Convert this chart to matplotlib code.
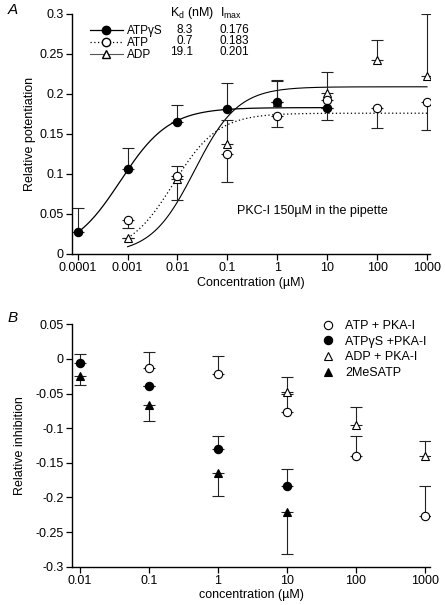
import numpy as np
import matplotlib
matplotlib.use("Agg")
import matplotlib.pyplot as plt
from matplotlib.lines import Line2D

plt.rcParams['font.family'] = ['Liberation Sans', 'DejaVu Sans']
plt.rcParams['mathtext.fontset'] = 'custom'
plt.rcParams['mathtext.rm'] = 'Liberation Sans'
plt.rcParams['mathtext.it'] = 'Liberation Sans:italic'

# ---------------- Panel A data ----------------
a_ticks = [0.0001, 0.001, 0.01, 0.1, 1, 10, 100, 1000]
a_ticklabels = ['0.0001', '0.001', '0.01', '0.1', '1', '10', '100', '1000']

atpgs_x = [0.0001, 0.001, 0.01, 0.1, 1, 10]
atpgs_y = [0.0275, 0.106, 0.165, 0.181, 0.190, 0.183]
atpgs_top = [0.058, 0.132, 0.186, 0.214, 0.218, 0.183]

atp_x = [0.001, 0.01, 0.1, 1, 10, 100, 1000]
atp_y = [0.043, 0.098, 0.125, 0.173, 0.192, 0.183, 0.190]
atp_bottom = [0.033, 0.068, 0.0896, 0.159, 0.168, 0.158, 0.155]

adp_x = [0.001, 0.01, 0.1, 1, 10, 100, 1000]
adp_y = [0.020, 0.094, 0.138, 0.190, 0.201, 0.242, 0.2225]
adp_top = [0.020, 0.110, 0.168, 0.216, 0.227, 0.267, 0.300]

# Hill fit parameters (Imax, K in uM, n) and x-range of each fitted curve
fit_names = ['ATPγS', 'ATP', 'ADP']
fit_imax = [0.183, 0.176, 0.209]
fit_k = [0.00072, 0.0083, 0.022]
fit_n = [0.89, 0.97, 1.0]
fit_range = [(0.0001, 10), (0.001, 1000), (0.001, 1000)]

table_kd = ['8.3', '0.7', '19.1']
table_imax = ['0.176', '0.183', '0.201']

# ---------------- Panel B data ----------------
b_ticks = [0.01, 0.1, 1, 10, 100, 1000]
b_ticklabels = ['0.01', '0.1', '1', '10', '100', '1000']

b_atp_x = [0.1, 1, 10, 100, 1000]
b_atp_y = [-0.0136, -0.0217, -0.077, -0.1407, -0.2265]
b_atp_top = [0.0096, 0.0043, -0.050, -0.111, -0.184]

b_atpgs_x = [0.01, 0.1, 1, 10]
b_atpgs_y = [-0.0063, -0.0396, -0.1296, -0.184]
b_atpgs_top = [0.0066, -0.0396, -0.112, -0.159]

b_adp_x = [10, 100, 1000]
b_adp_y = [-0.048, -0.0954, -0.1397]
b_adp_top = [-0.0256, -0.069, -0.118]

b_mes_x = [0.01, 0.1, 1, 10]
b_mes_y = [-0.024, -0.066, -0.165, -0.2216]
b_mes_bottom = [-0.037, -0.0896, -0.198, -0.282]

b_labels = ['ATP + PKA-I', 'ATPγS +PKA-I', 'ADP + PKA-I', '2MeSATP']

# ---------------- figure ----------------
fig = plt.figure(figsize=(4.45, 6.05), dpi=100)
axA = fig.add_axes([72/445, (605-254)/605, 358/445, 240/605])
axB = fig.add_axes([72/445, (605-566.7)/605, 358/445, 242.4/605])

ms = 6
ebkw = dict(fmt='none', ecolor='#222222', elinewidth=0.8, capsize=4.0, capthick=0.8, zorder=2)


def up(y, top):
    return [np.zeros(len(y)), np.array(top) - np.array(y)]


def down(y, bottom):
    return [np.array(y) - np.array(bottom), np.zeros(len(y))]


# Panel A
axA.set_xscale('log')
axA.set_xlim(10**-4.114, 10**3.06)
axA.set_ylim(0, 0.3)

styles = [dict(color='black', lw=0.9, ls='-'),
          dict(color='black', lw=0.9, ls=(0, (1, 2))),
          dict(color='black', lw=0.8, ls='-')]
for imax, k, n, (x0, x1), st in zip(fit_imax, fit_k, fit_n, fit_range, styles):
    xx = np.logspace(np.log10(x0), np.log10(x1), 300)
    yy = imax * xx**n / (xx**n + k**n)
    axA.plot(xx, yy, zorder=1, **st)

axA.errorbar(atpgs_x, atpgs_y, yerr=up(atpgs_y, atpgs_top), **ebkw)
axA.errorbar(atp_x, atp_y, yerr=down(atp_y, atp_bottom), **ebkw)
axA.errorbar(adp_x, adp_y, yerr=up(adp_y, adp_top), **ebkw)

axA.plot(adp_x, adp_y, ls='none', marker='^', ms=ms, mfc='white', mec='black', mew=0.8, zorder=3)
axA.plot(atp_x, atp_y, ls='none', marker='o', ms=ms, mfc='white', mec='black', mew=0.8, zorder=4)
axA.plot(atpgs_x, atpgs_y, ls='none', marker='o', ms=ms, mfc='black', mec='black', mew=0.8, zorder=5)

axA.set_xticks(a_ticks)
axA.set_xticklabels(a_ticklabels)
axA.xaxis.set_minor_locator(matplotlib.ticker.NullLocator())
axA.set_yticks([0, 0.05, 0.1, 0.15, 0.2, 0.25, 0.3])
axA.set_yticklabels(['0', '0.05', '0.1', '0.15', '0.2', '0.25', '0.3'])
axA.set_xlabel('Concentration (µM)', fontsize=9)
axA.set_ylabel('Relative potentiation', fontsize=9)
axA.yaxis.set_label_coords(-0.101, 0.5)
axA.xaxis.set_label_coords(0.5, -0.096)

handlesA = [Line2D([], [], marker='o', ms=ms, mfc='black', mec='black', **styles[0]),
            Line2D([], [], marker='o', ms=ms, mfc='white', mec='black', **styles[1]),
            Line2D([], [], marker='^', ms=ms, mfc='white', mec='black', color='#555555', lw=0.8, ls='-')]
legA = axA.legend(handlesA, fit_names, loc='upper left', bbox_to_anchor=(0.05, 0.955),
                  frameon=False, fontsize=8.5, handlelength=2.8, handletextpad=0.38,
                  borderpad=0, borderaxespad=0, labelspacing=0.0)

rows_y = [0.933, 0.889, 0.842]
for ry, kd, im in zip(rows_y, table_kd, table_imax):
    axA.text(0.338, ry, kd, transform=axA.transAxes, ha='right', va='center', fontsize=8.5)
    axA.text(0.413, ry, im, transform=axA.transAxes, ha='left', va='center', fontsize=8.5)
axA.text(0.274, 1.004, r'K$_\mathrm{d}$ (nM)', transform=axA.transAxes, ha='left', va='center', fontsize=9)
axA.text(0.413, 1.004, r'I$_\mathrm{max}$', transform=axA.transAxes, ha='left', va='center', fontsize=9)
axA.text(0.461, 0.18, 'PKC-I 150µM in the pipette', transform=axA.transAxes, ha='left', va='center', fontsize=9)

# Panel B
axB.set_xscale('log')
axB.set_xlim(10**-2.116, 10**3.072)
axB.set_ylim(-0.3, 0.05)

axB.errorbar(b_atp_x, b_atp_y, yerr=up(b_atp_y, b_atp_top), **ebkw)
axB.errorbar(b_atpgs_x, b_atpgs_y, yerr=up(b_atpgs_y, b_atpgs_top), **ebkw)
axB.errorbar(b_adp_x, b_adp_y, yerr=up(b_adp_y, b_adp_top), **ebkw)
axB.errorbar(b_mes_x, b_mes_y, yerr=down(b_mes_y, b_mes_bottom), **ebkw)

mk = [dict(marker='o', mfc='white'), dict(marker='o', mfc='black'),
      dict(marker='^', mfc='white'), dict(marker='^', mfc='black')]
for (xs, ys), m in zip([(b_adp_x, b_adp_y), (b_atp_x, b_atp_y), (b_atpgs_x, b_atpgs_y), (b_mes_x, b_mes_y)],
                       [mk[2], mk[0], mk[1], mk[3]]):
    axB.plot(xs, ys, ls='none', ms=ms, mec='black', mew=0.8, zorder=4, **m)

axB.set_xticks(b_ticks)
axB.set_xticklabels(b_ticklabels)
axB.xaxis.set_minor_locator(matplotlib.ticker.NullLocator())
axB.set_yticks([0.05, 0, -0.05, -0.1, -0.15, -0.2, -0.25, -0.3])
axB.set_yticklabels(['0.05', '0', '-0.05', '-0.1', '-0.15', '-0.2', '-0.25', '-0.3'])
axB.set_xlabel('concentration (µM)', fontsize=9)
axB.set_ylabel('Relative inhibition', fontsize=9)
axB.yaxis.set_label_coords(-0.128, 0.5)
axB.xaxis.set_label_coords(0.5, -0.092)

handlesB = [Line2D([], [], ls='none', ms=ms, mec='black', mew=0.8, **m) for m in mk]
axB.legend(handlesB, b_labels, loc='upper left', bbox_to_anchor=(0.698, 1.018),
           frameon=False, fontsize=9, handlelength=1.0, handletextpad=0.86,
           borderpad=0, borderaxespad=0, labelspacing=0.3)

for ax in (axA, axB):
    ax.spines['top'].set_visible(False)
    ax.spines['right'].set_visible(False)
    ax.spines['left'].set_linewidth(1.0)
    ax.spines['bottom'].set_linewidth(1.0)
    ax.tick_params(direction='out', length=4, width=0.9, labelsize=9, pad=2)

fig.text(8/445, 1 - 10/605, 'A', fontsize=11, style='italic', ha='left', va='center')
fig.text(8/445, 1 - 318/605, 'B', fontsize=11, style='italic', ha='left', va='center')

fig.savefig('out.png', dpi=100)
